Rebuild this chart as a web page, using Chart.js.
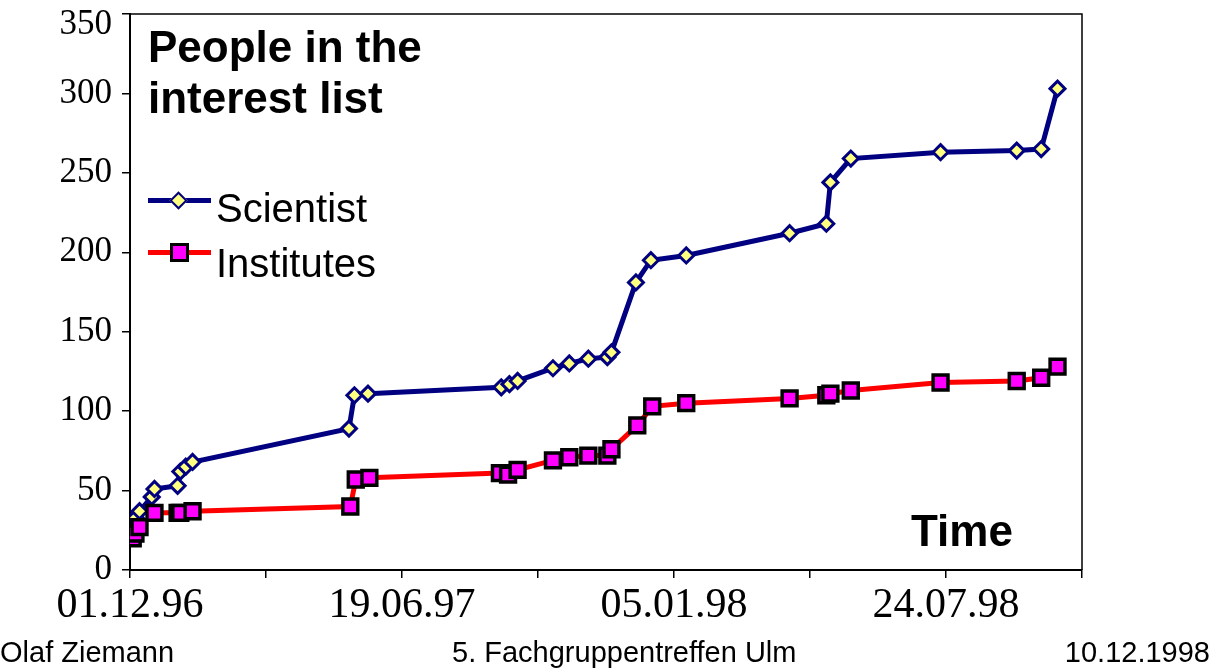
<!DOCTYPE html>
<html>
<head>
<meta charset="utf-8">
<script src="https://cdn.jsdelivr.net/npm/chart.js@4"></script>
<style>
  html, body { margin: 0; padding: 0; background: #fff; }
  #wrap { position: relative; width: 1218px; height: 668px; overflow: hidden; }
  #chart { position: absolute; left: 0; top: 0; }
  .txt { position: absolute; font-family: "Liberation Sans", Arial, sans-serif; color: #000; white-space: nowrap; }
  .title { left: 148px; top: 21px; font-size: 44px; font-weight: bold; line-height: 51px; }
  .time { left: 911px; top: 509px; font-size: 44px; font-weight: bold; line-height: 44px; }
  .leg { left: 216px; font-size: 40px; line-height: 40px; }
  .foot { top: 638px; font-size: 29px; line-height: 29px; }
  .legline { position: absolute; left: 148px; width: 63px; height: 5px; }
  .diamond { position: absolute; width: 9px; height: 9px; background: #ffff80; border: 2.5px solid #000080; transform: rotate(45deg); }
  .square { position: absolute; width: 13px; height: 13px; background: #ff00ff; border: 3px solid #000; }
</style>
</head>
<body>
<div id="wrap">
  <canvas id="chart" width="1218" height="668"></canvas>
  <div class="txt title">People in the<br>interest list</div>

  <div class="legline" style="top:198px; background:#000080"></div>
  <div class="diamond" style="left:172px; top:194px"></div>
  <div class="txt leg" style="top:188px">Scientist</div>

  <div class="legline" style="top:250px; background:#ff0000"></div>
  <div class="square" style="left:170px; top:243px"></div>
  <div class="txt leg" style="top:243px">Institutes</div>

  <div class="txt time">Time</div>

  <div class="txt foot" style="left:0px">Olaf Ziemann</div>
  <div class="txt foot" style="left:452px">5. Fachgruppentreffen Ulm</div>
  <div class="txt foot" style="right:8px">10.12.1998</div>
</div>

<script>
// days counted from 01.12.96
const sciDays = [0, 4, 7, 16, 18, 35, 37, 41, 46, 161, 165, 175, 273, 279, 285, 311, 323, 337, 351, 354, 372, 383, 409, 485, 512, 515, 530, 596, 652, 670, 682]
const sciValues = [25, 33, 37, 46, 51, 53, 62, 65, 68, 89, 110, 111, 115, 117, 119, 127, 130, 133, 134, 137, 181, 195, 198, 212, 218, 244, 259, 263, 264, 265, 303]

const instDays = [2, 4, 7, 18, 35, 37, 46, 162, 166, 176, 272, 278, 285, 311, 323, 337, 351, 354, 373, 384, 409, 485, 512, 515, 530, 596, 652, 670, 682]
const instValues = [20, 23, 27, 36, 36, 36, 37, 40, 57, 58, 61, 60, 63, 69, 71, 72, 72, 76, 91, 103, 105, 108, 110, 111, 113, 118, 119, 121, 128]

const startDate = Date.UTC(1996, 11, 1)
const labelEvery = 200

const toPoints = (days, values) => days.map((d, i) => ({ x: d, y: values[i] }))

const dayLabel = (v) => {
  if (v % labelEvery !== 0) return ''
  const d = new Date(startDate + v * 86400000)
  const dd = String(d.getUTCDate()).padStart(2, '0')
  const mm = String(d.getUTCMonth() + 1).padStart(2, '0')
  const yy = String(d.getUTCFullYear()).slice(2)
  return dd + '.' + mm + '.' + yy
}

// thin frame on top and right of the plot, and keep the top y label inside the page
const framePlugin = {
  id: 'frame',
  beforeDraw(chart) {
    const items = chart.scales.y.getLabelItems()
    items.forEach((it) => {
      if (it.options.translation[1] < chart.chartArea.top + 11) {
        it.options.translation[1] = chart.chartArea.top + 11
      }
    })
  },
  afterDraw(chart) {
    const a = chart.chartArea
    const ctx = chart.ctx
    ctx.save()
    ctx.strokeStyle = '#000'
    ctx.lineWidth = 1.5
    ctx.beginPath()
    ctx.moveTo(a.left, a.top)
    ctx.lineTo(a.right, a.top)
    ctx.lineTo(a.right, a.bottom)
    ctx.stroke()
    ctx.restore()
  },
}

const onPageLoad = () => {
  new Chart(document.getElementById('chart'), {
    type: 'line',
    data: {
      datasets: [
        {
          label: 'Scientist',
          data: toPoints(sciDays, sciValues),
          borderColor: '#000080',
          borderWidth: 5,
          pointStyle: 'rectRot',
          pointRadius: 7.5,
          pointBorderWidth: 3,
          pointBackgroundColor: '#ffff80',
          pointBorderColor: '#000080',
          tension: 0,
          order: 1,
        },
        {
          label: 'Institutes',
          data: toPoints(instDays, instValues),
          borderColor: '#ff0000',
          borderWidth: 5,
          pointStyle: 'rect',
          pointRadius: 10.5,
          pointBorderWidth: 3.5,
          pointBackgroundColor: '#ff00ff',
          pointBorderColor: '#000000',
          tension: 0,
          order: 0,
        },
      ],
    },
    options: {
      responsive: false,
      animation: false,
      devicePixelRatio: 1,
      layout: { padding: { top: 14, right: 136, left: 0, bottom: 0 } },
      plugins: { legend: { display: false }, tooltip: { enabled: false } },
      scales: {
        x: {
          type: 'linear',
          min: 0,
          max: 700,
          afterFit: (s) => { s.height = 98; s.paddingLeft = 0; s.paddingRight = 0 },
          border: { color: '#000', width: 2 },
          grid: { drawOnChartArea: false, tickLength: 8, color: '#000', lineWidth: 1.5 },
          ticks: {
            stepSize: 100,
            autoSkip: false,
            maxRotation: 0,
            padding: 3,
            color: '#000',
            font: { family: '"Liberation Serif", "Times New Roman", serif', size: 42 },
            callback: (v) => dayLabel(v),
          },
        },
        y: {
          min: 0,
          max: 350,
          afterFit: (s) => { s.width = 130; s.paddingTop = 0; s.paddingBottom = 0 },
          border: { color: '#000', width: 2 },
          grid: { drawOnChartArea: false, tickLength: 8, color: '#000', lineWidth: 1.5 },
          ticks: {
            stepSize: 50,
            padding: 10,
            color: '#000',
            font: { family: '"Liberation Serif", "Times New Roman", serif', size: 35 },
          },
        },
      },
    },
    plugins: [framePlugin],
  })
}

document.addEventListener('DOMContentLoaded', onPageLoad)
</script>
</body>
</html>
